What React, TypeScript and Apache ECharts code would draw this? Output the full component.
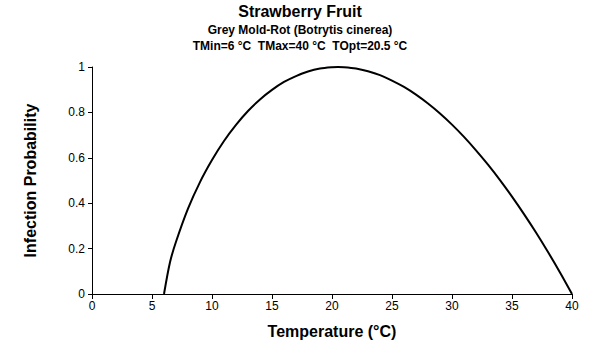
import React, { useEffect, useRef } from "react";
import * as echarts from "echarts";

const temps = [6, 6.5, 7, 8, 9, 10, 11, 12, 13, 14, 15, 16, 17, 18, 19, 20, 20.5, 21, 22, 23, 24, 25, 26, 27, 28, 29, 30, 31, 32, 33, 34, 35, 36, 37, 38, 39, 40];
const probs = [0, 0.14, 0.23, 0.376, 0.493, 0.59, 0.674, 0.745, 0.806, 0.857, 0.899, 0.934, 0.96, 0.98, 0.993, 0.999, 1, 0.999, 0.993, 0.981, 0.964, 0.94, 0.912, 0.878, 0.839, 0.795, 0.746, 0.692, 0.633, 0.57, 0.502, 0.429, 0.352, 0.271, 0.185, 0.095, 0];

const titleText = "Strawberry Fruit";
const subtitle1 = "Grey Mold-Rot (Botrytis cinerea)";
const subtitle2 = "TMin=6 °C  TMax=40 °C  TOpt=20.5 °C";
const xName = "Temperature (°C)";
const yName = "Infection Probability";

export default function App() {
  const ref = useRef<HTMLDivElement>(null);
  useEffect(() => {
    if (!ref.current) return;
    const chart = echarts.init(ref.current, null, { renderer: "svg" });
    const font = "Liberation Sans, Arial, sans-serif";
    chart.setOption({
      animation: false,
      backgroundColor: "#ffffff",
      title: [
        { text: titleText, left: 300, textAlign: "center", top: 3, padding: 0, textStyle: { fontFamily: font, fontSize: 16, fontWeight: "bold", color: "#000" } },
        { text: subtitle1, left: 300, textAlign: "center", top: 24, padding: 0, textStyle: { fontFamily: font, fontSize: 12, fontWeight: "bold", color: "#000" } },
        { text: subtitle2, left: 300, textAlign: "center", top: 40, padding: 0, textStyle: { fontFamily: font, fontSize: 12, fontWeight: "bold", color: "#000" } },
      ],
      grid: { left: 92, right: 28, top: 67, bottom: 66, containLabel: false },
      xAxis: {
        type: "value",
        min: 0,
        max: 40,
        interval: 5,
        name: xName,
        nameLocation: "middle",
        nameGap: 29,
        nameTextStyle: { fontFamily: font, fontSize: 16, fontWeight: "bold", color: "#000" },
        axisLine: { lineStyle: { color: "#000", width: 1 } },
        axisTick: { length: 5, lineStyle: { color: "#000" } },
        axisLabel: { fontFamily: font, fontSize: 12, color: "#000", margin: 6 },
        splitLine: { show: false },
      },
      yAxis: {
        type: "value",
        min: 0,
        max: 1,
        interval: 0.2,
        name: yName,
        nameLocation: "middle",
        nameGap: 54,
        nameTextStyle: { fontFamily: font, fontSize: 16, fontWeight: "bold", color: "#000" },
        axisLine: { show: true, lineStyle: { color: "#000", width: 1 } },
        axisTick: { show: true, length: 4, lineStyle: { color: "#000" } },
        axisLabel: { fontFamily: font, fontSize: 12, color: "#000", margin: 7 },
        splitLine: { show: false },
      },
      series: [
        {
          type: "line",
          data: temps.map((t, i) => [t, probs[i]]),
          smooth: 0.3,
          showSymbol: false,
          lineStyle: { color: "#000", width: 2 },
        },
      ],
    });
    return () => chart.dispose();
  }, []);
  return <div ref={ref} style={{ width: 600, height: 360, position: "absolute", left: 0, top: 0 }} />;
}
